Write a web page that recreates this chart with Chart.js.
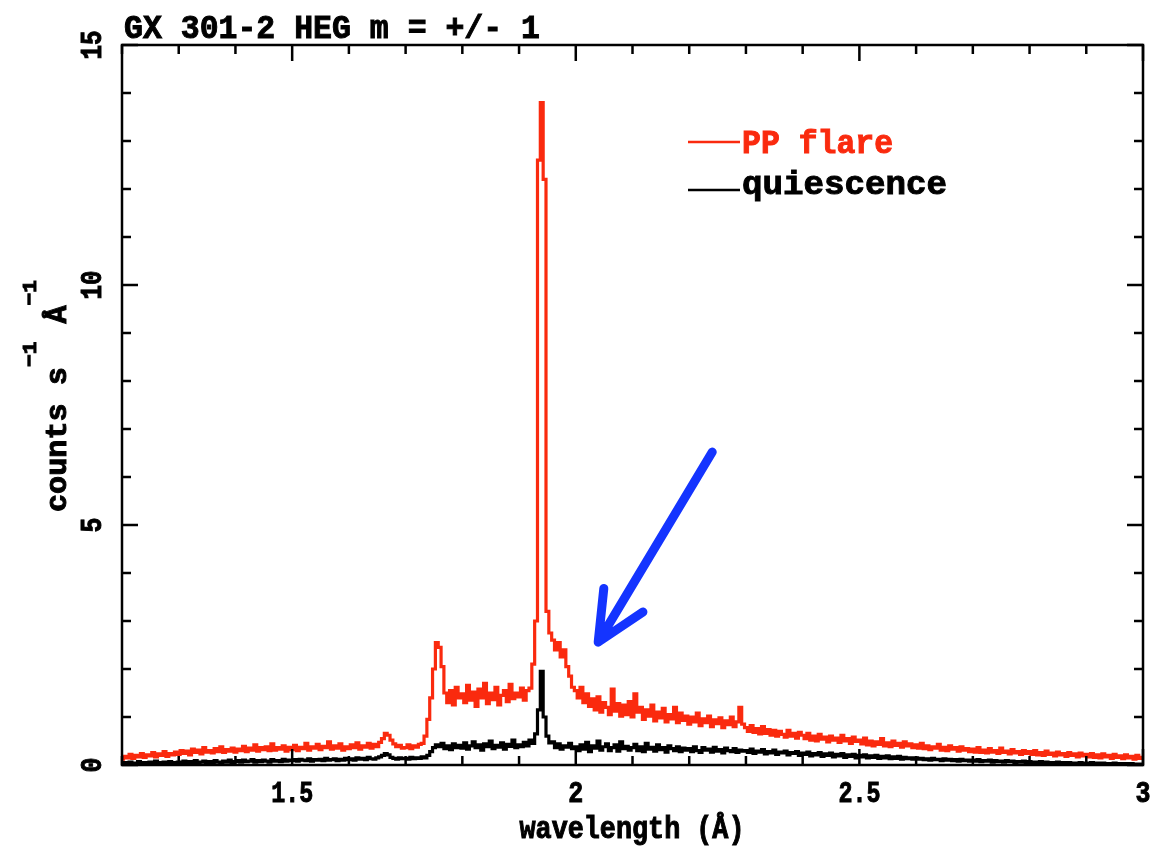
<!DOCTYPE html>
<html>
<head>
<meta charset="utf-8">
<script src="https://cdn.jsdelivr.net/npm/chart.js@4.4.1/dist/chart.umd.min.js"></script>
<style>
  html, body { margin: 0; padding: 0; background: #fff; }
</style>
</head>
<body>
<canvas id="spectrum" width="1163" height="849"></canvas>
<script>
// wavelength grid (A): 0.005 A bins from 1.2 to 3.0
const wlStart = 1.2;
const wlStep = 0.005;

// PP flare spectrum, one row per 0.1 A (counts s^-1 A^-1)
const flareCounts = [
    0.12, 0.18, 0.15, 0.22, 0.14, 0.20, 0.17, 0.24, 0.16, 0.21, 0.19, 0.26, 0.17, 0.23, 0.20, 0.28, 0.18, 0.24, 0.21, 0.27,
    0.22, 0.30, 0.24, 0.29, 0.21, 0.33, 0.26, 0.31, 0.23, 0.36, 0.27, 0.30, 0.25, 0.34, 0.28, 0.38, 0.26, 0.32, 0.29, 0.35,
    0.27, 0.33, 0.30, 0.39, 0.28, 0.35, 0.31, 0.42, 0.29, 0.36, 0.32, 0.38, 0.30, 0.44, 0.31, 0.36, 0.33, 0.40, 0.29, 0.37,
    0.32, 0.41, 0.30, 0.37, 0.34, 0.45, 0.31, 0.38, 0.35, 0.43, 0.32, 0.39, 0.36, 0.48, 0.33, 0.40, 0.35, 0.44, 0.31, 0.38,
    0.34, 0.42, 0.36, 0.46, 0.33, 0.40, 0.37, 0.45, 0.35, 0.43, 0.38, 0.47, 0.55, 0.66, 0.62, 0.52, 0.44, 0.38, 0.41, 0.35,
    0.36, 0.42, 0.34, 0.40, 0.37, 0.43, 0.45, 0.60, 0.95, 1.40, 2.00, 2.55, 2.45, 2.05, 1.50, 1.30, 1.55, 1.25, 1.62, 1.40,
    1.48, 1.30, 1.66, 1.35, 1.52, 1.22, 1.58, 1.40, 1.70, 1.28, 1.50, 1.36, 1.62, 1.25, 1.45, 1.55, 1.32, 1.68, 1.38, 1.50,
    1.42, 1.60, 1.35, 1.55, 1.60, 2.10, 3.00, 12.60, 13.80, 12.20, 3.20, 2.75, 2.60, 2.40, 2.55, 2.25, 2.40, 2.05, 1.85, 1.62,
    1.55, 1.40, 1.62, 1.30, 1.48, 1.22, 1.38, 1.15, 1.42, 1.10, 1.30, 1.20, 1.05, 1.58, 1.12, 1.28, 1.02, 1.25, 1.05, 1.32,
    1.00, 1.48, 1.10, 1.20, 0.95, 1.15, 1.02, 1.25, 0.92, 1.10, 0.98, 1.18, 0.90, 1.05, 0.96, 1.20, 0.88, 1.08, 0.93, 1.02,
    0.85, 1.00, 0.90, 1.08, 0.82, 0.96, 0.88, 1.02, 0.80, 0.94, 0.86, 0.98, 0.78, 0.92, 0.84, 1.00, 0.80, 0.90, 1.20, 0.85,
    0.78, 0.70, 0.82, 0.68, 0.76, 0.65, 0.80, 0.66, 0.74, 0.62, 0.72, 0.60, 0.70, 0.64, 0.58, 0.72, 0.60, 0.66, 0.56, 0.68,
    0.62, 0.55, 0.66, 0.52, 0.60, 0.50, 0.64, 0.54, 0.58, 0.48, 0.60, 0.52, 0.56, 0.47, 0.62, 0.50, 0.55, 0.45, 0.58, 0.49,
    0.52, 0.44, 0.56, 0.42, 0.50, 0.40, 0.48, 0.43, 0.55, 0.40, 0.46, 0.38, 0.50, 0.41, 0.45, 0.37, 0.48, 0.40, 0.44, 0.36,
    0.42, 0.35, 0.45, 0.34, 0.40, 0.32, 0.38, 0.35, 0.43, 0.31, 0.37, 0.30, 0.40, 0.33, 0.36, 0.29, 0.38, 0.31, 0.34, 0.28,
    0.33, 0.27, 0.36, 0.26, 0.31, 0.25, 0.34, 0.27, 0.30, 0.24, 0.35, 0.26, 0.29, 0.23, 0.32, 0.25, 0.28, 0.22, 0.30, 0.24,
    0.28, 0.22, 0.30, 0.21, 0.26, 0.20, 0.29, 0.22, 0.25, 0.19, 0.27, 0.21, 0.24, 0.18, 0.26, 0.20, 0.23, 0.17, 0.25, 0.19,
    0.22, 0.17, 0.24, 0.16, 0.21, 0.15, 0.23, 0.17, 0.20, 0.14, 0.22, 0.16, 0.19, 0.13, 0.21, 0.15, 0.18, 0.12, 0.20, 0.14,
    0.16
];

// quiescence spectrum, same grid
const quietCounts = [
    0.03, 0.05, 0.02, 0.06, 0.04, 0.03, 0.07, 0.04, 0.05, 0.02, 0.06, 0.04, 0.08, 0.03, 0.05, 0.06, 0.04, 0.07, 0.05, 0.03,
    0.06, 0.04, 0.08, 0.05, 0.07, 0.04, 0.09, 0.05, 0.06, 0.08, 0.05, 0.07, 0.04, 0.09, 0.06, 0.05, 0.08, 0.06, 0.10, 0.05,
    0.07, 0.09, 0.06, 0.10, 0.07, 0.08, 0.11, 0.06, 0.09, 0.07, 0.10, 0.08, 0.06, 0.11, 0.08, 0.09, 0.07, 0.12, 0.08, 0.10,
    0.09, 0.11, 0.08, 0.12, 0.10, 0.09, 0.13, 0.08, 0.11, 0.10, 0.12, 0.09, 0.14, 0.10, 0.11, 0.13, 0.09, 0.12, 0.10, 0.14,
    0.11, 0.13, 0.10, 0.15, 0.12, 0.14, 0.11, 0.16, 0.13, 0.12, 0.15, 0.17, 0.20, 0.24, 0.21, 0.16, 0.14, 0.12, 0.15, 0.13,
    0.14, 0.12, 0.16, 0.13, 0.15, 0.14, 0.17, 0.15, 0.20, 0.28, 0.36, 0.42, 0.38, 0.45, 0.34, 0.40, 0.32, 0.44, 0.36, 0.41,
    0.35, 0.46, 0.33, 0.40, 0.48, 0.36, 0.42, 0.31, 0.44, 0.38, 0.50, 0.34, 0.41, 0.37, 0.46, 0.33, 0.43, 0.39, 0.52, 0.36,
    0.42, 0.38, 0.47, 0.40, 0.52, 0.45, 0.65, 1.15, 1.95, 1.00, 0.60, 0.46, 0.48, 0.36, 0.44, 0.33, 0.40, 0.37, 0.45, 0.34,
    0.38, 0.30, 0.42, 0.33, 0.47, 0.28, 0.40, 0.35, 0.50, 0.31, 0.38, 0.44, 0.30, 0.36, 0.42, 0.29, 0.48, 0.34, 0.39, 0.31,
    0.36, 0.43, 0.30, 0.38, 0.28, 0.45, 0.33, 0.37, 0.29, 0.42, 0.32, 0.36, 0.27, 0.40, 0.34, 0.30, 0.38, 0.28, 0.35, 0.31,
    0.34, 0.28, 0.38, 0.30, 0.26, 0.36, 0.31, 0.33, 0.27, 0.37, 0.29, 0.32, 0.25, 0.35, 0.30, 0.28, 0.34, 0.26, 0.31, 0.29,
    0.30, 0.26, 0.33, 0.24, 0.29, 0.27, 0.32, 0.23, 0.28, 0.25, 0.31, 0.22, 0.27, 0.25, 0.29, 0.21, 0.26, 0.24, 0.28, 0.20,
    0.25, 0.22, 0.27, 0.19, 0.24, 0.21, 0.26, 0.18, 0.23, 0.20, 0.25, 0.17, 0.22, 0.19, 0.24, 0.16, 0.21, 0.18, 0.22, 0.15,
    0.20, 0.17, 0.21, 0.15, 0.19, 0.16, 0.20, 0.14, 0.18, 0.15, 0.19, 0.13, 0.17, 0.14, 0.18, 0.12, 0.16, 0.13, 0.15, 0.12,
    0.15, 0.12, 0.14, 0.11, 0.13, 0.10, 0.14, 0.11, 0.12, 0.09, 0.13, 0.10, 0.12, 0.09, 0.11, 0.08, 0.12, 0.09, 0.10, 0.08,
    0.10, 0.08, 0.11, 0.07, 0.09, 0.08, 0.10, 0.06, 0.09, 0.07, 0.08, 0.06, 0.09, 0.07, 0.08, 0.05, 0.07, 0.06, 0.08, 0.05,
    0.07, 0.05, 0.06, 0.04, 0.07, 0.05, 0.06, 0.04, 0.05, 0.04, 0.06, 0.03, 0.05, 0.04, 0.05, 0.03, 0.04, 0.03, 0.05, 0.03,
    0.04, 0.03, 0.05, 0.02, 0.04, 0.03, 0.04, 0.02, 0.03, 0.03, 0.04, 0.02, 0.03, 0.02, 0.03, 0.02, 0.03, 0.01, 0.02, 0.02,
    0.02
];

const xMajorTicks = [1.5, 2, 2.5, 3];
const xMinorTicks = [1.2, 1.3, 1.4, 1.6, 1.7, 1.8, 1.9, 2.1, 2.2, 2.3, 2.4, 2.6, 2.7, 2.8, 2.9];
const yMajorTicks = [0, 5, 10, 15];
const yMinorTicks = [1, 2, 3, 4, 6, 7, 8, 9, 11, 12, 13, 14];

// arrow annotation, [wavelength, counts]
const arrowFrom = [2.2406, 6.52];
const arrowTo = [2.0395, 2.56];

const RED = '#fa2a0e';
const BLUE = '#1434ff';
const FONT = '"Liberation Mono", "DejaVu Sans Mono", monospace';

function toPoints(values) {
    return values.map((y, i) => ({ x: +(wlStart + i * wlStep).toFixed(3), y: y }));
}

// draw text squeezed/stretched to a given width
function fitText(ctx, text, x, y, width, size, color, align, angle) {
    ctx.save();
    ctx.translate(x, y);
    ctx.rotate(angle || 0);
    ctx.font = 'bold ' + size + 'px ' + FONT;
    const w = ctx.measureText(text).width;
    ctx.scale(width / w, 1);
    ctx.textAlign = align;
    ctx.textBaseline = 'alphabetic';
    ctx.fillStyle = color;
    ctx.strokeStyle = color;
    ctx.lineWidth = 1;
    ctx.fillText(text, 0, 0);
    ctx.strokeText(text, 0, 0);
    ctx.restore();
}

const framePlugin = {
    id: 'frame',
    afterDraw(chart) {
        const ctx = chart.ctx;
        const a = chart.chartArea;
        const xs = chart.scales.x;
        const ys = chart.scales.y;

        ctx.save();
        ctx.strokeStyle = '#000';
        ctx.lineWidth = 2.5;
        ctx.strokeRect(a.left, a.top, a.right - a.left, a.bottom - a.top);

        // inward ticks on all four sides
        ctx.beginPath();
        const xTick = (v, len) => {
            const px = xs.getPixelForValue(v);
            ctx.moveTo(px, a.bottom); ctx.lineTo(px, a.bottom - len);
            ctx.moveTo(px, a.top); ctx.lineTo(px, a.top + len);
        };
        const yTick = (v, len) => {
            const py = ys.getPixelForValue(v);
            ctx.moveTo(a.left, py); ctx.lineTo(a.left + len, py);
            ctx.moveTo(a.right, py); ctx.lineTo(a.right - len, py);
        };
        xMajorTicks.forEach(v => xTick(v, 16));
        xMinorTicks.forEach(v => xTick(v, 9));
        yMajorTicks.forEach(v => yTick(v, 16));
        yMinorTicks.forEach(v => yTick(v, 9));
        ctx.stroke();
        ctx.restore();

        // tick labels
        xMajorTicks.forEach(v => {
            const s = String(v);
            fitText(ctx, s, xs.getPixelForValue(v), 802, s.length > 1 ? 42 : 15, 30, '#000', 'center');
        });
        yMajorTicks.forEach(v => {
            const s = String(v);
            fitText(ctx, s, 101, ys.getPixelForValue(v), s.length > 1 ? 29 : 15, 30, '#000', 'center', -Math.PI / 2);
        });

        // titles
        fitText(ctx, 'GX 301-2 HEG m = +/- 1', 124, 38, 416, 34, '#000', 'left');
        fitText(ctx, 'wavelength (\u00c5)', 632, 838, 225, 31, '#000', 'center');

        // rotated y title with superscripts
        const parts = [
            { t: 'counts s', size: 30, rise: 0 },
            { t: '\u22121', size: 21, rise: 30 },
            { t: ' \u00c5', size: 30, rise: 0 },
            { t: '\u22121', size: 21, rise: 30 }
        ];
        let total = 0;
        parts.forEach(p => {
            ctx.font = 'bold ' + p.size + 'px ' + FONT;
            p.w = ctx.measureText(p.t).width;
            total += p.w;
        });
        const k = 232 / total;
        let u = 0;
        parts.forEach(p => {
            ctx.save();
            ctx.translate(66 - p.rise, 512);
            ctx.rotate(-Math.PI / 2);
            ctx.scale(k, 1);
            ctx.font = 'bold ' + p.size + 'px ' + FONT;
            ctx.fillStyle = '#000';
            ctx.strokeStyle = '#000';
            ctx.lineWidth = 1;
            ctx.textAlign = 'left';
            ctx.fillText(p.t, u, 0);
            ctx.strokeText(p.t, u, 0);
            ctx.restore();
            u += p.w;
        });

        // legend
        ctx.save();
        ctx.lineWidth = 2.5;
        ctx.strokeStyle = RED;
        ctx.beginPath(); ctx.moveTo(688, 142); ctx.lineTo(740, 142); ctx.stroke();
        ctx.strokeStyle = '#000';
        ctx.beginPath(); ctx.moveTo(688, 190); ctx.lineTo(740, 190); ctx.stroke();
        ctx.restore();
        fitText(ctx, 'PP flare', 742, 153, 151, 34, RED, 'left');
        fitText(ctx, 'quiescence', 742, 194, 205, 34, '#000', 'left');

        // blue arrow
        const x0 = xs.getPixelForValue(arrowFrom[0]), y0 = ys.getPixelForValue(arrowFrom[1]);
        const x1 = xs.getPixelForValue(arrowTo[0]), y1 = ys.getPixelForValue(arrowTo[1]);
        const ang = Math.atan2(y0 - y1, x0 - x1);
        const head = 54, spread = 25 * Math.PI / 180;
        ctx.save();
        ctx.strokeStyle = BLUE;
        ctx.lineWidth = 9;
        ctx.lineCap = 'round';
        ctx.lineJoin = 'round';
        ctx.beginPath();
        ctx.moveTo(x0, y0); ctx.lineTo(x1, y1);
        ctx.moveTo(x1 + head * Math.cos(ang - spread), y1 + head * Math.sin(ang - spread));
        ctx.lineTo(x1, y1);
        ctx.lineTo(x1 + head * Math.cos(ang + spread), y1 + head * Math.sin(ang + spread));
        ctx.stroke();
        ctx.restore();
    }
};

new Chart(document.getElementById('spectrum').getContext('2d'), {
    type: 'line',
    data: {
        datasets: [
            {
                label: 'quiescence',
                data: toPoints(quietCounts),
                borderColor: '#000',
                borderWidth: 3.2,
                stepped: 'middle',
                order: 0
            },
            {
                label: 'PP flare',
                data: toPoints(flareCounts),
                borderColor: RED,
                borderWidth: 3.2,
                stepped: 'middle',
                order: 1
            }
        ]
    },
    options: {
        responsive: false,
        animation: false,
        layout: { padding: { left: 122, top: 45, right: 20, bottom: 84 } },
        elements: { point: { radius: 0 } },
        scales: {
            x: { type: 'linear', min: 1.2, max: 3.0, display: false },
            y: { min: 0, max: 15, display: false }
        },
        plugins: {
            legend: { display: false },
            tooltip: { enabled: false }
        }
    },
    plugins: [framePlugin]
});
</script>
</body>
</html>
